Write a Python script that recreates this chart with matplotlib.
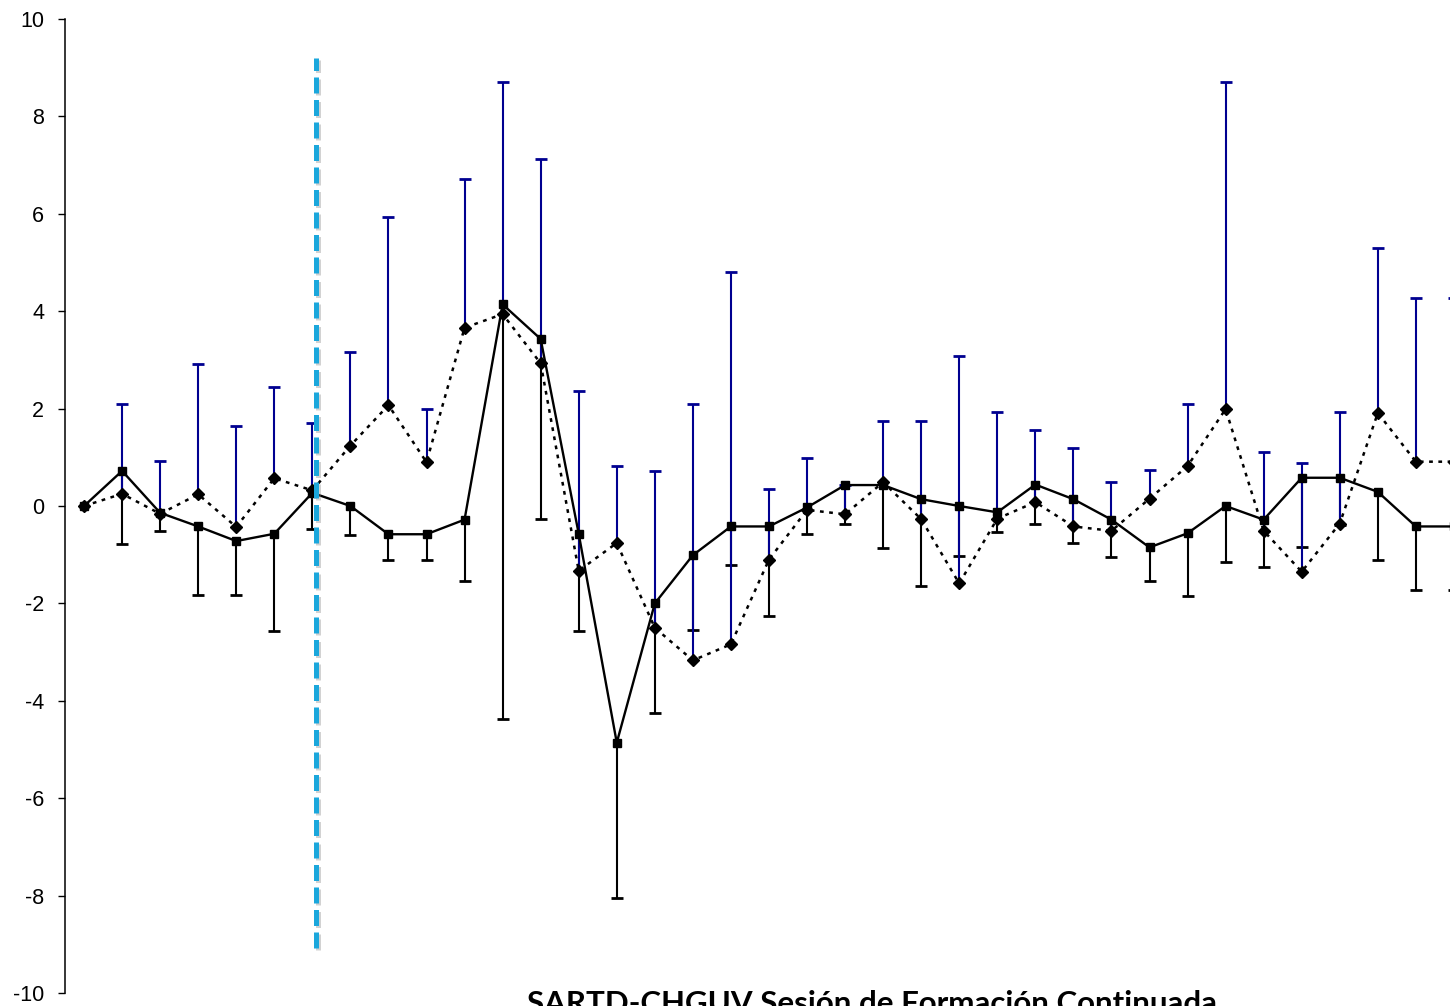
import numpy as np
import matplotlib
matplotlib.use("Agg")
import matplotlib.pyplot as plt
import matplotlib.patheffects as pe

plt.rcParams['font.family'] = ['Liberation Sans', 'DejaVu Sans']
plt.rcParams['axes.unicode_minus'] = False

# series (37 points, last one is cut by the right edge)
solid_vals = [0.00, 0.72, -0.14, -0.42, -0.72, -0.57, 0.27, 0.00, -0.58, -0.58,
              -0.28, 4.14, 3.43, -0.57, -4.86, -2.00, -1.01, -0.42, -0.42, -0.03,
              0.43, 0.43, 0.14, 0.00, -0.13, 0.44, 0.14, -0.28, -0.85, -0.56,
              0.00, -0.28, 0.58, 0.58, 0.29, -0.42, -0.42]
solid_low = [np.nan, -0.78, -0.52, -1.83, -1.83, -2.57, -0.48, -0.59, -1.11, -1.11,
             -1.55, -4.37, -0.26, -2.57, -8.05, -4.25, -2.54, -1.22, -2.26, -0.58,
             -0.37, -0.86, -1.64, -1.02, -0.53, -0.37, -0.77, -1.05, -1.55, -1.85,
             -1.16, -1.25, -0.84, -0.40, -1.11, -1.72, -1.72]

dotted_vals = [0.00, 0.25, -0.16, 0.24, -0.43, 0.57, 0.32, 1.24, 2.07, 0.90,
               3.66, 3.94, 2.93, -1.33, -0.76, -2.50, -3.17, -2.84, -1.10, -0.08,
               -0.17, 0.49, -0.27, -1.59, -0.26, 0.08, -0.42, -0.51, 0.15, 0.82,
               1.99, -0.51, -1.35, -0.36, 1.91, 0.91, 0.91]
dotted_high = [np.nan, 2.10, 0.93, 2.91, 1.64, 2.45, 1.70, 3.16, 5.93, 1.99,
               6.72, 8.71, 7.12, 2.37, 0.83, 0.72, 2.10, 4.80, 0.35, 0.99,
               0.44, 1.74, 1.75, 3.09, 1.92, 1.57, 1.19, 0.49, 0.73, 2.09,
               8.71, 1.11, 0.89, 1.92, 5.30, 4.27, 4.27]

yticks = [-10, -8, -6, -4, -2, 0, 2, 4, 6, 8, 10]
marker_x = 6.1
marker_span = (-9.08, 9.2)
footer = "SARTD-CHGUV Sesión de Formación Continuada"

BLUE = '#000090'
CYAN = '#1BA7DC'

fig = plt.figure(figsize=(14.5, 10.06), dpi=100)
ax = fig.add_axes([65 / 1450, 13 / 1006, 1446 / 1450, 974 / 1006])

x = np.arange(len(solid_vals))

# error bars: black hang down from the solid series, blue go up from the dotted one
ax.vlines(x, solid_low, solid_vals, color='black', lw=1.5, zorder=2)
ax.plot(x, solid_low, ls='none', marker='_', ms=9, mew=2, color='black', zorder=2)
ax.vlines(x, dotted_vals, dotted_high, color=BLUE, lw=1.5, zorder=2)
ax.plot(x, dotted_high, ls='none', marker='_', ms=9, mew=2, color=BLUE, zorder=2)

ax.plot(x, dotted_vals, color='black', lw=1.8, ls=(0, (1.5, 2.2)),
        marker='D', ms=6.5, mfc='black', mec='black', zorder=3)
ax.plot(x, solid_vals, color='black', lw=1.7, ls='-',
        marker='s', ms=5.8, mfc='black', mec='black', zorder=4)

ax.plot([marker_x, marker_x], marker_span, color=CYAN, lw=3.6,
        dashes=(3.2, 1.3), solid_capstyle='butt', dash_capstyle='butt', zorder=5,
        path_effects=[pe.SimpleLineShadow(offset=(1.2, -1.2), shadow_color='gray', alpha=0.35),
                      pe.Normal()])

ax.set_xlim(-0.5, 37.5)
ax.set_ylim(-10, 10)
ax.set_yticks(yticks)
ax.set_yticklabels([str(t) for t in yticks])
ax.set_xticks([])
for side in ['top', 'right', 'bottom']:
    ax.spines[side].set_visible(False)
ax.spines['left'].set_linewidth(1.1)
ax.tick_params(axis='y', length=5, width=1, pad=10, labelsize=15.5)

# footer title, cut by the bottom edge like in the slide
t = fig.text(872 / 1450, 0, footer, ha='center', va='baseline',
             fontfamily='Lato', fontweight='bold', fontsize=24)
fig.canvas.draw()
w = t.get_window_extent().width
fs = 24 * 691 / w
t.set_fontsize(fs)
cap_px = 0.7165 * fs * 100 / 72
t.set_y((15 - cap_px) / 1006)

fig.savefig('out.png', dpi=100)
